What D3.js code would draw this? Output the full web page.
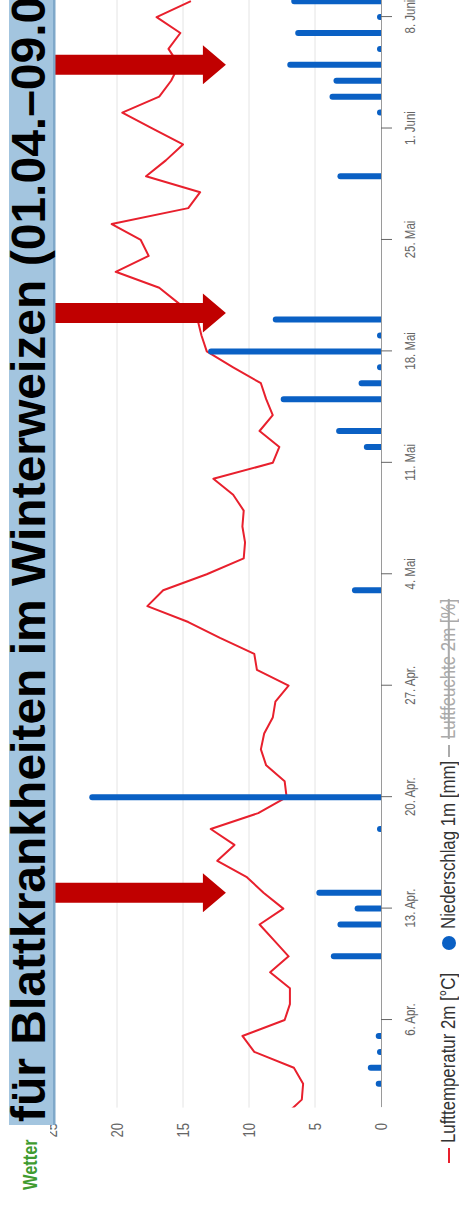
<!DOCTYPE html>
<html><head><meta charset="utf-8">
<script src="https://cdn.jsdelivr.net/npm/d3@7"></script>
<style>html,body{margin:0;padding:0;background:#fff;overflow:hidden}</style>
</head><body>
<svg id="c" width="459" height="1206"></svg>
<script>
// ---------- data ----------
const tempStart = "2021-03-31";
const tempValues = [7.3, 6.0, 5.9, 6.6, 9.6, 10.5, 7.3, 6.9, 6.9, 8.4, 7.0, 8.1, 9.2, 7.4, 8.9, 10.2,
  12.4, 11.1, 12.9, 9.3, 7.15, 7.3, 8.7, 9.1, 8.85, 8.2, 8.0, 7.0, 9.4, 9.6, 12.2,
  14.6, 17.7, 16.5, 13.2, 10.4, 10.3, 10.5, 10.4, 11.2, 12.7, 8.2, 7.7, 9.2, 8.2, 8.7, 9.1,
  11.2, 13.2, 13.6, 13.9, 15.3, 16.8, 20.1, 17.6, 18.2, 20.4, 14.6, 13.7, 17.8, 16.3, 15.0,
  17.3, 19.6, 16.8, 15.9, 15.3, 16.1, 15.2, 17.0, 14.4];
const precipDates = ["2021-04-02","2021-04-03","2021-04-04","2021-04-05","2021-04-10","2021-04-12",
  "2021-04-13","2021-04-14","2021-04-18","2021-04-20","2021-05-03","2021-05-12","2021-05-13",
  "2021-05-15","2021-05-16","2021-05-17","2021-05-18","2021-05-19","2021-05-20","2021-05-29",
  "2021-06-02","2021-06-03","2021-06-04","2021-06-05","2021-06-06","2021-06-07","2021-06-08","2021-06-09"];
const precipValues = [0.4, 1.0, 0.3, 0.4, 3.8, 3.3, 2.0, 4.9, 0.2, 22.1, 2.2, 1.3, 3.4,
  7.6, 1.7, 0.1, 13.1, 0.2, 8.2, 3.3, 0.1, 3.9, 3.6, 7.1, 0.3, 6.5, 0.2, 6.8];
const tickDates = ["2021-04-06","2021-04-13","2021-04-20","2021-04-27","2021-05-04","2021-05-11",
  "2021-05-18","2021-05-25","2021-06-01","2021-06-08"];
const tickLabels = ["6. Apr.","13. Apr.","20. Apr.","27. Apr.","4. Mai","11. Mai","18. Mai","25. Mai","1. Juni","8. Juni"];
const valueTicks = [0, 5, 10, 15, 20, 25];
const arrowDates = ["2021-04-14T00:00Z", "2021-05-20T10:00Z", "2021-06-05T00:00Z"];
const arrowTipValue = 11.75;
const titleText = "für Blattkrankheiten im Winterweizen (01.04.–09.06.)";
const legendItems = ["Lufttemperatur 2m [°C]", "Niederschlag 1m [mm]", "Luftfeuchte 2m [%]"];

// ---------- layout ----------
const W = 459, H = 1206;
const sans = "'Liberation Sans',Arial,sans-serif";
const squeeze = 0.82;
const svg = d3.select('#c');
const g = svg.append('g').attr('transform', `translate(0,${H}) rotate(-90)`);

const parse = d3.utcParse('%Y-%m-%d');
const t0 = parse(tempStart);
const tempData = tempValues.map((v, i) => ({date: d3.utcDay.offset(t0, i), v}));
const precipData = precipDates.map((d, i) => ({date: parse(d), v: precipValues[i]}));

const x = d3.scaleUtc()
  .domain([new Date(Date.UTC(2021, 2, 31, 12)), new Date(Date.UTC(2021, 5, 9, 12))])
  .range([98.4, 1212.8]);
const y = d3.scaleLinear().domain([0, 25]).range([381, 51]);
const [px0, px1] = x.range();

svg.append('defs').append('clipPath').attr('id', 'plot')
  .append('rect').attr('x', px0).attr('y', 0).attr('width', px1 - px0).attr('height', W);

// grid
g.append('g').selectAll('line').data(valueTicks.filter(v => v > 0)).join('line')
  .attr('x1', px0).attr('x2', px1).attr('y1', d => y(d)).attr('y2', d => y(d))
  .attr('stroke', '#e4e4e4').attr('stroke-width', 1);

// temperature line
g.append('path').datum(tempData)
  .attr('clip-path', 'url(#plot)')
  .attr('fill', 'none').attr('stroke', '#e8202d').attr('stroke-width', 2)
  .attr('stroke-linejoin', 'round')
  .attr('d', d3.line().x(d => x(d.date)).y(d => y(d.v)));

// precipitation columns (rounded top)
const bw = 6;
function colPath(d) {
  const c = x(d.date), base = y(0);
  const top = Math.min(y(d.v), base - 4);
  const r = bw / 2;
  const p = d3.path();
  p.moveTo(c - r, base);
  p.lineTo(c - r, top + r);
  p.arc(c, top + r, r, Math.PI, 0);
  p.lineTo(c + r, base);
  p.closePath();
  return p.toString();
}
g.append('g').selectAll('path').data(precipData).join('path')
  .attr('d', colPath).attr('fill', '#0a60c4');

// date axis
const xAxis = d3.axisBottom(x).tickValues(tickDates.map(parse))
  .tickFormat((d, i) => tickLabels[i]).tickSize(11).tickSizeOuter(0);
const ax = g.append('g').attr('transform', `translate(0,${y(0)})`).call(xAxis);
ax.select('.domain').attr('stroke', '#9a9a9a');
ax.selectAll('.tick line').attr('stroke', '#666');
ax.selectAll('.tick text').attr('y', 34).attr('dy', 0).attr('fill', '#666')
  .attr('transform', `scale(${squeeze},1)`)
  .style('font-family', sans).style('font-size', '14px');

// value axis labels
const yAxis = d3.axisLeft(y).tickValues(valueTicks).tickSize(0).tickPadding(0);
const ay = g.append('g').attr('transform', 'translate(83,0)').call(yAxis);
ay.select('.domain').remove();
ay.selectAll('.tick text').attr('fill', '#666')
  .attr('transform', `scale(${squeeze},1)`)
  .style('font-family', sans).style('font-size', '16px');

// arrows
const tip = y(arrowTipValue), headL = 23, headW = 19.5, shaftW = 10, tail = 55;
g.append('g').selectAll('path').data(arrowDates.map(s => new Date(s))).join('path')
  .attr('fill', '#c00000')
  .attr('d', d => {
    const c = x(d);
    return `M${c - shaftW},${tail}L${c - shaftW},${tip - headL}L${c - headW},${tip - headL}L${c},${tip}` +
      `L${c + headW},${tip - headL}L${c + shaftW},${tip - headL}L${c + shaftW},${tail}Z`;
  });

// title banner
g.append('rect').attr('x', 81).attr('y', 9).attr('width', H).attr('height', 46).attr('fill', '#a3c5df');
g.append('rect').attr('x', 81).attr('y', 53).attr('width', H).attr('height', 2.5).attr('fill', '#7fa8c9');
g.append('text').attr('x', 84).attr('y', 45).text(titleText)
  .style('font-family', sans).style('font-weight', 'bold')
  .style('font-size', '48px').attr('fill', '#000');

// logo box
g.append('rect').attr('x', 0).attr('y', 0).attr('width', 81).attr('height', 50).attr('fill', '#fff');
g.append('text').attr('transform', `translate(16,37) scale(${squeeze},1)`).text('Wetter')
  .style('font-family', sans).style('font-weight', 'bold').style('font-size', '20px')
  .attr('fill', '#3f9b2f');

// legend
const lg = g.append('g').style('font-family', sans).style('font-size', '20.5px');
lg.append('line').attr('x1', 43).attr('x2', 58).attr('y1', 449).attr('y2', 449)
  .attr('stroke', '#e8202d').attr('stroke-width', 2);
lg.append('text').attr('transform', `translate(63,455) scale(${squeeze},1)`)
  .text(legendItems[0]).attr('fill', '#333');
lg.append('circle').attr('cx', 263).attr('cy', 449).attr('r', 7).attr('fill', '#0a60c4');
lg.append('text').attr('transform', `translate(277,455) scale(${squeeze},1)`)
  .text(legendItems[1]).attr('fill', '#333');
lg.append('line').attr('x1', 449).attr('x2', 461).attr('y1', 449).attr('y2', 449)
  .attr('stroke', '#aaa').attr('stroke-width', 2);
lg.append('text').attr('transform', `translate(467,455) scale(${squeeze},1)`)
  .text(legendItems[2]).attr('fill', '#aaa')
  .style('text-decoration', 'line-through');
</script>
</body></html>
